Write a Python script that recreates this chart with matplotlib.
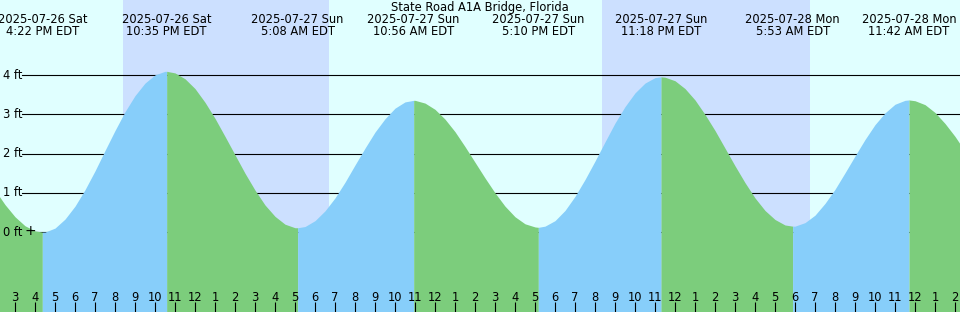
import matplotlib
matplotlib.use('Agg')
import matplotlib.pyplot as plt
import matplotlib.transforms as mtransforms
import numpy as np
import pandas as pd

T0 = pd.Timestamp('2025-07-26 00:00')


def hours(stamps):
    """ Hours since midnight 2025-07-26. """
    return ((pd.to_datetime(pd.Series(stamps)) - T0) / pd.Timedelta(hours=1)).to_numpy()


title = 'State Road A1A Bridge, Florida'

# tide extremes (first and last lie outside the window, estimated)
event_times = ['2025-07-26 10:10', '2025-07-26 16:22', '2025-07-26 22:35',
               '2025-07-27 05:08', '2025-07-27 10:56', '2025-07-27 17:10',
               '2025-07-27 23:18', '2025-07-28 05:53', '2025-07-28 11:42',
               '2025-07-28 18:00']
event_ft = [3.35, 0.00, 4.10, 0.11, 3.36, 0.12, 3.96, 0.15, 3.37, 0.20]
shown = slice(1, 9)

# water level every half hour, 2 PM 07-26 .. 3 PM 07-28
level_start = '2025-07-26 14:00'
level_step_h = 0.5
level_ft = [1.07, 0.70, 0.39, 0.16, 0.03, 0.00, 0.10, 0.33, 0.66, 1.08,
            1.56, 2.08, 2.59, 3.07, 3.48, 3.80, 4.01, 4.10, 4.06, 3.91,
            3.66, 3.31, 2.90, 2.44, 1.97, 1.50, 1.07, 0.69, 0.40, 0.20,
            0.11, 0.14, 0.29, 0.54, 0.87, 1.27, 1.71, 2.14, 2.55, 2.89,
            3.16, 3.32, 3.36, 3.29, 3.13, 2.88, 2.56, 2.18, 1.78, 1.38,
            1.00, 0.66, 0.39, 0.21, 0.13, 0.15, 0.29, 0.55, 0.91, 1.34,
            1.81, 2.30, 2.78, 3.20, 3.55, 3.80, 3.94, 3.95, 3.86, 3.66,
            3.37, 3.00, 2.59, 2.14, 1.69, 1.26, 0.87, 0.55, 0.32, 0.18,
            0.15, 0.24, 0.43, 0.73, 1.09, 1.51, 1.94, 2.36, 2.74, 3.04,
            3.26, 3.36, 3.35, 3.25, 3.05, 2.77, 2.44, 2.06, 1.67]

# night (sunset, sunrise)
nights = [('2025-07-26 20:23', '2025-07-27 06:41'),
          ('2025-07-27 20:20', '2025-07-28 06:44')]

depth_levels = [0, 1, 2, 3, 4]

DAY = '#E0FFFF'
NIGHT = '#CCE0FF'
FLOOD = '#87CEFA'
EBB = '#7CCD7C'

FS = 8.3
plt.rcParams['font.family'] = 'DejaVu Sans'
plt.rcParams['font.size'] = FS

fig = plt.figure(figsize=(9.6, 3.12), dpi=100)
ax = fig.add_axes([0, 0, 1, 1])
ax.set_facecolor(DAY)
ax.set_axisbelow(False)
for s in ax.spines.values():
    s.set_visible(False)

left = 14.25
ax.set_xlim(left, left + 48)
ax.set_ylim(-2.04, 5.92)

for a, b in nights:
    ta, tb = hours([a, b])
    ax.axvspan(ta, tb, color=NIGHT, lw=0, zorder=0)

# depth lines + labels
blend = mtransforms.blended_transform_factory(ax.transAxes, ax.transData)
for d in depth_levels:
    start = 35 / 960 if d == 0 else 22 / 960
    ax.axhline(d, xmin=start, color='black', lw=0.8, zorder=1)
    ax.text(3 / 960, d, '%d ft' % d, transform=blend, va='center', ha='left', zorder=5)
ax.text(30 / 960, 0.03, '+', transform=blend, va='center', ha='center',
        fontsize=10, zorder=5)

# tide curve
ev_t = hours(event_times)
lv_t = hours([level_start])[0] + level_step_h * np.arange(len(level_ft))
t = np.concatenate([lv_t, ev_t])
h = np.concatenate([level_ft, event_ft])
order = np.argsort(t, kind='stable')
t, h = t[order], h[order]

for i in range(len(ev_t) - 1):
    ta, tb = ev_t[i], ev_t[i + 1]
    m = (t >= ta) & (t <= tb)
    color = FLOOD if event_ft[i + 1] > event_ft[i] else EBB
    ax.fill_between(t[m], h[m], -3, color=color, lw=0, zorder=2)

# header
fig.text(0.5, 1 - 7.5 / 312, title, ha='center', va='center')
top = mtransforms.blended_transform_factory(ax.transData, ax.transAxes)
for stamp, tt in zip(pd.to_datetime(event_times[shown]), ev_t[shown]):
    ax.text(tt, 1 - 19.5 / 312, stamp.strftime('%Y-%m-%d %a'), transform=top,
            ha='center', va='center')
    ax.text(tt, 1 - 31.5 / 312, stamp.strftime('%-I:%M %p EDT'), transform=top,
            ha='center', va='center')

# hour ticks, midnight ticks drawn heavier
tick_h = np.arange(15, 63)
ax.set_xticks(tick_h)
ax.set_xticklabels([str(int(x) % 12 or 12) for x in tick_h])
ax.set_xticks([24, 48], minor=True)
ax.tick_params(axis='x', which='major', direction='in', length=7, width=0.8,
               pad=-15, labelsize=FS)
ax.tick_params(axis='x', which='minor', direction='in', length=7, width=2.4)
ax.set_yticks([])

fig.savefig('out.png', dpi=100)
